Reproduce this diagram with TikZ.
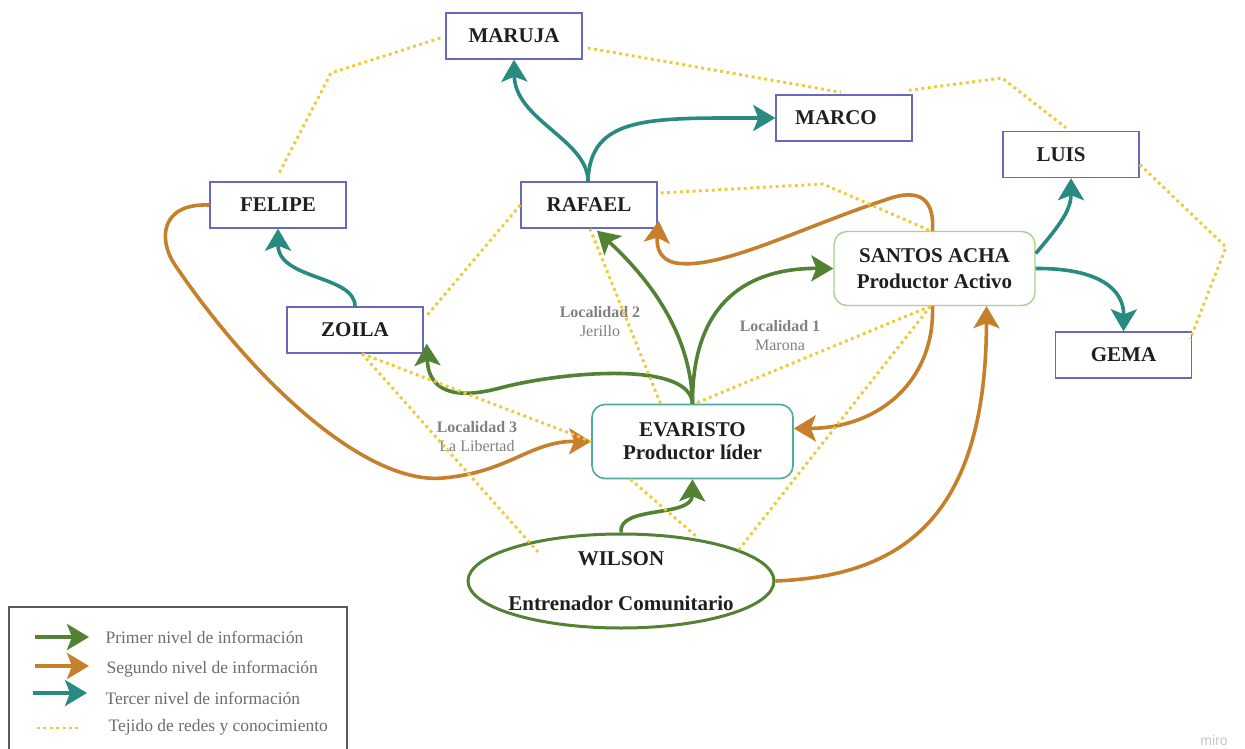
\documentclass[tikz,border=0pt]{standalone}
\usepackage{fontspec}
\setmainfont{Liberation Serif}
\newfontfamily\wmfont{Liberation Sans}
\usetikzlibrary{arrows.meta,shapes.geometric}

\definecolor{boxblue}{RGB}{104,104,190}
\definecolor{lvlone}{RGB}{84,130,53}
\definecolor{lvltwo}{RGB}{198,128,44}
\definecolor{lvlthree}{RGB}{40,138,128}
\definecolor{weave}{RGB}{238,202,56}
\definecolor{santosgreen}{RGB}{169,209,142}
\definecolor{evaristoteal}{RGB}{76,172,160}
\definecolor{labelgray}{RGB}{128,128,128}
\definecolor{legendgray}{RGB}{110,110,110}
\definecolor{framegray}{RGB}{90,90,90}

\begin{document}
\begin{tikzpicture}[x=1pt,y=-1pt,
  namefont/.style={font=\fontsize{21}{24}\selectfont\bfseries, text=black!88},
  person/.style={draw=boxblue, line width=1.4pt, fill=white,
    minimum width=136pt, minimum height=46pt, inner sep=0pt, namefont},
  producer/.style={rounded corners=13pt, line width=1.4pt, fill=white,
    minimum width=201pt, minimum height=74pt, inner sep=0pt, align=center},
  arrowbase/.style={line width=3.6pt, line join=round,
    -{Stealth[length=22pt,width=26pt,inset=5pt]}},
  arrowone/.style={arrowbase, draw=lvlone},
  arrowtwo/.style={arrowbase, draw=lvltwo},
  arrowthree/.style={arrowbase, draw=lvlthree},
  weavepath/.style={draw=weave, line width=2.9pt, dash pattern=on 2.9pt off 3.5pt},
  place/.style={font=\fontsize{16}{19}\selectfont, text=labelgray, align=center},
  legendtext/.style={font=\fontsize{17.5}{20}\selectfont, text=legendgray, anchor=west}
]
\useasboundingbox (0,0) rectangle (1245,749);
\fill[white] (0,0) rectangle (1245,749);

% ---- people ----
\node[person] (maruja) at (514,36)    {MARUJA};
\node[person] (marco)  at (844,118)   {MARCO\hspace*{16pt}};
\node[person] (luis)   at (1071,154.5){LUIS\hspace*{20pt}};
\node[person] (felipe) at (278,205)   {FELIPE};
\node[person] (rafael) at (589,205)   {RAFAEL};
\node[person] (zoila)  at (355,330)   {ZOILA};
\node[person] (gema)   at (1123.5,355){GEMA};

\node[producer, draw=santosgreen, font=\fontsize{21}{26}\selectfont\bfseries, text=black!88]
  (santos) at (934.5,268.5) {SANTOS ACHA\\Productor Activo};
\node[producer, draw=evaristoteal, line width=1.6pt, font=\fontsize{21}{23}\selectfont\bfseries, text=black!88]
  (evaristo) at (692.5,441.5) {EVARISTO\\Productor líder};

\node[draw=lvlone, line width=3pt, fill=white, ellipse, minimum width=306pt,
  minimum height=94pt, inner sep=0pt] (wilson) at (621,581) {};
\node[namefont, align=center] (wilsontext) at (wilson.center)
  {WILSON\\[21pt]Entrenador Comunitario};

% ---- locality labels ----
\node[place] (loc2) at (600,322) {\bfseries Localidad 2\\Jerillo};
\node[place] (loc1) at (780,336) {\bfseries Localidad 1\\Marona};
\node[place] (loc3) at (477,437) {\bfseries Localidad 3\\La Libertad};

% ---- first level (green) ----
\draw[arrowone] (wilson.north) .. controls (618,505) and (692,518) .. (evaristo.south);
\draw[arrowone] (evaristo.north) .. controls (691,330) and (645,275) .. ([xshift=8pt,yshift=-2pt]rafael.south);
\draw[arrowone] (evaristo.north) .. controls (692,300) and (750,268) .. (santos.west);
\draw[arrowone] (evaristo.north) .. controls (690,360) and (560,372) .. (500,388)
  .. controls (440,404) and (428,380) .. ([xshift=3pt,yshift=10pt]zoila.south east);

% ---- second level (orange) ----
\draw[arrowtwo] (felipe.west) .. controls (160,203) and (158,240) .. (175,265)
  .. controls (260,390) and (370,485) .. (443,478)
  .. controls (510,472) and (530,441) .. (evaristo.west);
\draw[arrowtwo] ([xshift=-2pt]santos.south) .. controls (935,380) and (880,428)
  .. ([yshift=13pt]evaristo.east);
\draw[arrowtwo] (wilson.east) .. controls (900,576) and (986,520) .. ([xshift=52pt]santos.south);
\draw[arrowtwo] ([xshift=-2pt]santos.north) .. controls (935,192) and (912,190) .. (885,200)
  .. controls (800,228) and (720,270) .. (676,263)
  .. controls (655,259) and (657,240) .. ([xshift=1pt,yshift=8pt]rafael.south east);

% ---- third level (teal) ----
\draw[arrowthree] ([xshift=-1pt]rafael.north) .. controls (588,140) and (515,120) .. (maruja.south);
\draw[arrowthree] ([xshift=-1pt]rafael.north) .. controls (590,115) and (650,118) .. (marco.west);
\draw[arrowthree] (zoila.north) .. controls (355,275) and (278,280) .. (felipe.south);
\draw[arrowthree] ([yshift=15pt]santos.east) .. controls (1060,225) and (1071,210) .. (luis.south);
\draw[arrowthree] (santos.east) .. controls (1100,268) and (1124,290) .. (gema.north);

% ---- network of contacts (dotted) ----
\draw[weavepath] ([xshift=-5pt,yshift=-2pt]maruja.west) -- (331,73) -- ([yshift=6pt]felipe.north);
\draw[weavepath] ([xshift=5pt,yshift=-12pt]maruja.east) -- ([xshift=-3pt,yshift=2pt]marco.north);
\draw[weavepath] ([xshift=-4pt,yshift=4pt]marco.north east) -- (1002,78) -- ([xshift=-5pt,yshift=3pt]luis.north);
\draw[weavepath] ([yshift=-10pt]luis.east) -- (1226,247) -- ([xshift=-2pt,yshift=-8pt]gema.north east);
\draw[weavepath] ([xshift=3pt,yshift=12pt]rafael.east) -- (823,184) -- ([xshift=-4pt]santos.north);
\draw[weavepath] (rafael.west) -- ([xshift=2pt,yshift=13pt]zoila.east);
\draw[weavepath] ([xshift=1pt]rafael.south) -- ([xshift=-32pt]evaristo.north);
\draw[weavepath] ([xshift=7pt]zoila.south) -- (evaristo.west);
\draw[weavepath] ([xshift=7pt]zoila.south) -- ([xshift=-83pt,yshift=29pt]wilson.center);
\draw[weavepath] ([xshift=-62pt]evaristo.south) -- ([xshift=76pt,yshift=44pt]wilson.center);
\draw[weavepath] ([xshift=-4pt]santos.south) -- ([xshift=2pt]evaristo.north);
\draw[weavepath] ([xshift=-4pt]santos.south) -- ([xshift=116pt,yshift=29pt]wilson.center);

% ---- legend ----
\draw[framegray, line width=1.5pt] (9,749) -- (9,607) -- (347,607) -- (347,749);
\coordinate (k1a) at (35,637);  \coordinate (k1b) at (89,637);
\coordinate (k2a) at (35,666);  \coordinate (k2b) at (89,666);
\coordinate (k3a) at (33,693);  \coordinate (k3b) at (87,693);
\coordinate (k4a) at (37,728);  \coordinate (k4b) at (78,728);
\draw[arrowone] (k1a) -- (k1b);
\draw[arrowtwo] (k2a) -- (k2b);
\draw[arrowthree] (k3a) -- (k3b);
\draw[weavepath] (k4a) -- (k4b);
\node[legendtext] (lg1) at (102,637) {Primer nivel de información};
\node[legendtext] (lg2) at (103,669) {Segundo nivel de información};
\node[legendtext] (lg3) at (102,698) {Tercer nivel de información};
\node[legendtext] (lg4) at (105,727) {Tejido de redes y conocimiento};

\node[font=\wmfont\fontsize{14}{16}\selectfont, text=black!22] (mark) at (1214,740) {miro};
\end{tikzpicture}
\end{document}
